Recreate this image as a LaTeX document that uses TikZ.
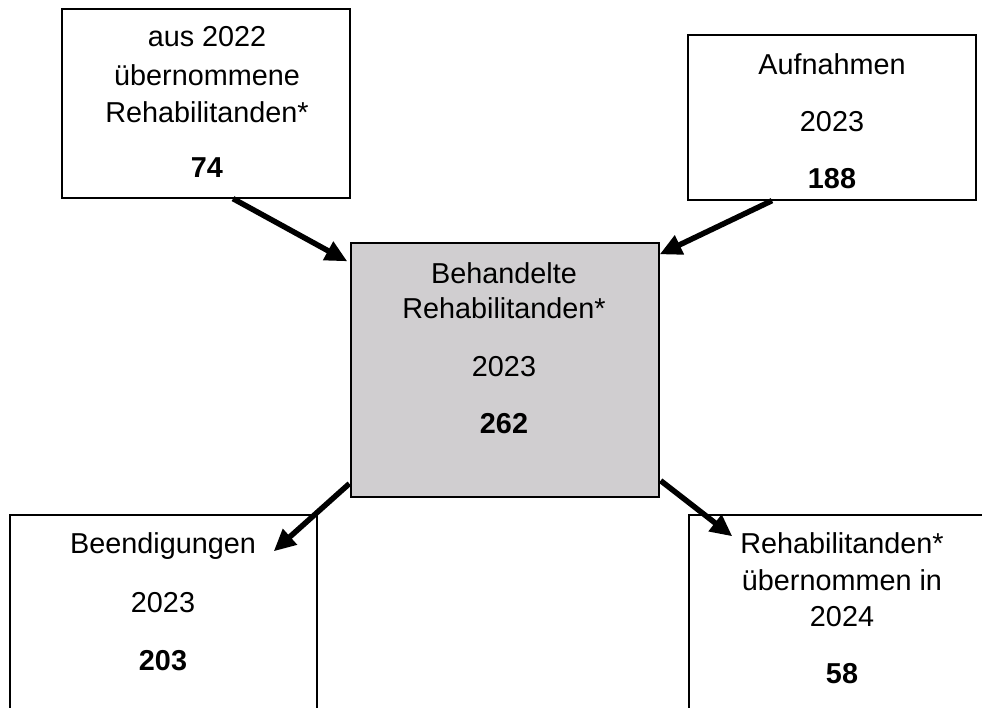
\documentclass[tikz,border=0pt]{standalone}
\usepackage{fontspec}
\setmainfont{Liberation Sans}
\usetikzlibrary{arrows.meta}
\definecolor{boxgray}{RGB}{208,206,208}
\begin{document}
\begin{tikzpicture}[x=1pt,y=-1pt,
  box/.style={draw=black, line width=1.3pt, rectangle, inner sep=0pt},
  lbl/.style={font=\fontsize{28.8}{34}\selectfont, inner sep=0pt, anchor=base},
  flow/.style={line width=5.5pt, -{Triangle[length=22pt,width=20pt]}}]
\useasboundingbox (0,0) rectangle (982,708);
\clip (0,0) rectangle (982,708);
% boxes
\node[box, minimum width=288pt, minimum height=189pt] (A) at (206,103.5) {};
\node[box, minimum width=288pt, minimum height=165pt] (B) at (832,117.5) {};
\node[box, fill=boxgray, minimum width=308pt, minimum height=254pt] (C) at (505,370) {};
\node[box, minimum width=307pt, minimum height=230pt] (D) at (163.5,630) {};
\node[box, minimum width=311pt, minimum height=230pt] (E) at (844.5,630) {};
% texts A
\node[lbl] (a1) at (207,47) {aus 2022};
\node[lbl] (a2) at (207,86) {übernommene};
\node[lbl] (a3) at (207,123) {Rehabilitanden*};
\node[lbl] (a4) at (207,178) {\bfseries 74};
% texts B
\node[lbl] (b1) at (832,75) {Aufnahmen};
\node[lbl] (b2) at (832,132) {2023};
\node[lbl] (b3) at (832,189) {\bfseries 188};
% texts C
\node[lbl] (c1) at (504,284) {Behandelte};
\node[lbl] (c2) at (504,319) {Rehabilitanden*};
\node[lbl] (c3) at (504,377) {2023};
\node[lbl] (c4) at (504,433) {\bfseries 262};
% texts D
\node[lbl] (d1) at (163,553) {Beendigungen};
\node[lbl] (d2) at (163,612) {2023};
\node[lbl] (d3) at (163,670) {\bfseries 203};
% texts E
\node[lbl] (e1) at (842,553) {Rehabilitanden*};
\node[lbl] (e2) at (842,590) {übernommen in};
\node[lbl] (e3) at (842,626) {2024};
\node[lbl] (e4) at (842,683) {\bfseries 58};
% arrows
\draw[flow] ([xshift=27pt]A.south) -- ([xshift=-3pt,yshift=-19pt]C.north west);
\draw[flow] ([xshift=-60pt]B.south) -- ([yshift=-12pt]C.north east);
\draw[flow] ([xshift=-1pt,yshift=14pt]C.south west) -- ([xshift=-44pt,yshift=-37pt]D.north east);
\draw[flow] ([xshift=1pt,yshift=17pt]C.south east) -- ([xshift=44pt,yshift=-22pt]E.north west);
\end{tikzpicture}
\end{document}
